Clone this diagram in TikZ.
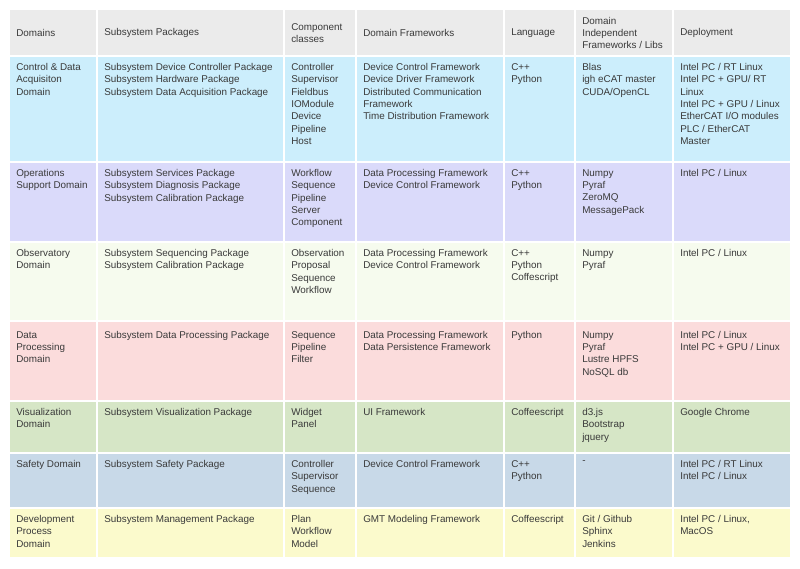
\documentclass[tikz,border=0pt]{standalone}
\usepackage{fontspec}
\setmainfont{Liberation Sans}
\definecolor{hd}{HTML}{EBEBEB}
\definecolor{ra}{HTML}{CCEEFC}
\definecolor{rb}{HTML}{DADAFA}
\definecolor{rc}{HTML}{F6FBEE}
\definecolor{rd}{HTML}{FBDCDC}
\definecolor{re}{HTML}{D6E6C6}
\definecolor{rf}{HTML}{C8D9E8}
\definecolor{rg}{HTML}{FBFACC}
\definecolor{tx}{HTML}{3A3A3A}
\tikzset{txt/.style={inner sep=0pt,align=left,text=tx,font=\fontsize{7.4pt}{9.25pt}\selectfont}}
\newcommand{\cellbg}[5]{\fill[#5] (#1,#3) rectangle (#2,#4);}
\begin{document}
\begin{tikzpicture}[x=0.75pt,y=-0.75pt]
\useasboundingbox (0,0) rectangle (800,568);
\fill[white] (0,0) rectangle (800,568);
% columns: 10-96,98-283,285-355,357-503,505-574,576-672,674-790
\foreach \ya/\yb/\c in {10/55/hd,57/161/ra,163/241/rb,243/320/rc,322/400/rd,402/452/re,454/507/rf,509/557/rg}{
  \foreach \xa/\xb in {10/96,98/283,285/355,357/503,505/574,576/672,674/790}{
    \fill[\c] (\xa,\ya) rectangle (\xb,\yb);}}
% header
\node[txt,anchor=west] (h1) at (16,33) {Domains};
\node[txt,anchor=west] (h2) at (104,33) {Subsystem Packages};
\node[txt,anchor=west] (h3) at (291,33) {Component\\classes};
\node[txt,anchor=west] (h4) at (363,33) {Domain Frameworks};
\node[txt,anchor=west] (h5) at (511,33) {Language};
\node[txt,anchor=west] (h6) at (582,33) {Domain\\Independent\\Frameworks / Libs};
\node[txt,anchor=west] (h7) at (680,33) {Deployment};
% row 1
\newcommand{\rowcells}[8]{%
\node[txt,anchor=north west] (a#1) at (16,#2) {#3};
\node[txt,anchor=north west] (b#1) at (104,#2) {#4};
\node[txt,anchor=north west] (c#1) at (291,#2) {#5};
\node[txt,anchor=north west] (d#1) at (363,#2) {#6};
\node[txt,anchor=north west] (e#1) at (511,#2) {#7};
\node[txt,anchor=north west] (f#1) at (582,#2) {#8};}
\rowcells{1}{63}{Control \& Data\\Acquisiton\\Domain}{Subsystem Device Controller Package\\Subsystem Hardware Package\\Subsystem Data Acquisition Package}{Controller\\Supervisor\\Fieldbus\\IOModule\\Device\\Pipeline\\Host}{Device Control Framework\\Device Driver Framework\\Distributed Communication\\Framework\\Time Distribution Framework}{C++\\Python}{Blas\\igh eCAT master\\CUDA/OpenCL}
\node[txt,anchor=north west] (g1) at (680,63) {Intel PC / RT Linux\\Intel PC + GPU/ RT\\Linux\\Intel PC + GPU / Linux\\EtherCAT I/O modules\\PLC / EtherCAT\\Master};
\rowcells{2}{169}{Operations\\Support Domain}{Subsystem Services Package\\Subsystem Diagnosis Package\\Subsystem Calibration Package}{Workflow\\Sequence\\Pipeline\\Server\\Component}{Data Processing Framework\\Device Control Framework}{C++\\Python}{Numpy\\Pyraf\\ZeroMQ\\MessagePack}
\node[txt,anchor=north west] (g2) at (680,169) {Intel PC / Linux};
\rowcells{3}{249}{Observatory\\Domain}{Subsystem Sequencing Package\\Subsystem Calibration Package}{Observation\\Proposal\\Sequence\\Workflow}{Data Processing Framework\\Device Control Framework}{C++\\Python\\Coffescript}{Numpy\\Pyraf}
\node[txt,anchor=north west] (g3) at (680,249) {Intel PC / Linux};
\rowcells{4}{331}{Data\\Processing\\Domain}{Subsystem Data Processing Package}{Sequence\\Pipeline\\Filter}{Data Processing Framework\\Data Persistence Framework}{Python}{Numpy\\Pyraf\\Lustre HPFS\\NoSQL db}
\node[txt,anchor=north west] (g4) at (680,331) {Intel PC / Linux\\Intel PC + GPU / Linux};
\rowcells{5}{408}{Visualization\\Domain}{Subsystem Visualization Package}{Widget\\Panel}{UI Framework}{Coffeescript}{d3.js\\Bootstrap\\jquery}
\node[txt,anchor=north west] (g5) at (680,408) {Google Chrome};
\rowcells{6}{460}{Safety Domain}{Subsystem Safety Package}{Controller\\Supervisor\\Sequence}{Device Control Framework}{C++\\Python}{-}
\node[txt,anchor=north west] (g6) at (680,460) {Intel PC / RT Linux\\Intel PC / Linux};
\rowcells{7}{515}{Development\\Process\\Domain}{Subsystem Management Package}{Plan\\Workflow\\Model}{GMT Modeling Framework}{Coffeescript}{Git / Github\\Sphinx\\Jenkins}
\node[txt,anchor=north west] (g7) at (680,515) {Intel PC / Linux,\\MacOS};
\end{tikzpicture}
\end{document}
